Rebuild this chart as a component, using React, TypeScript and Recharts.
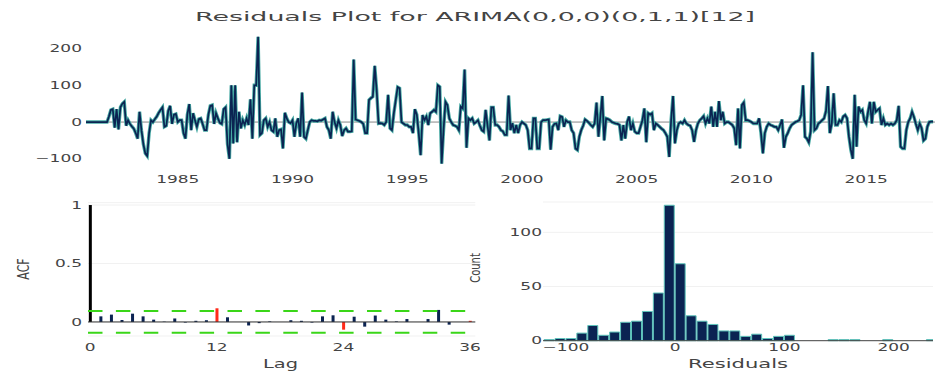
import { LineChart, Line, BarChart, Bar, Cell, XAxis, YAxis, CartesianGrid, ReferenceLine } from "recharts";

// monthly residuals, Jan 1981 .. Dec 2017
const res1980s = [
  0, 0, 0, 0, 0, 0, 0, 0, 0, 0, 0, 0,
  15, 33, 35, -15, 35, -20, 40, 50, 55, -10, 5, -5,
  -12, -18, -30, -45, 28, -22, -60, -85, -92, -30, 5, 0,
  8, 15, 25, 33, 40, -13, -10, 30, 44, -5, 20, 22,
  0, 5, 5, -30, -45, 20, 49, -22, 24, 5, -13, 8,
  10, -5, -22, -22, 20, 44, 46, -5, 24, 10, -2, -5,
  35, 40, -60, -100, 100, -58, 100, -55, 28, -17, 5, -8,
  10, -8, 62, -45, 100, 100, 232, -35, -30, 5, 10, -13,
  0, -22, -26, 10, -40, -22, -20, -72, 25, 10, 0, -3,
];
const res1990s = [
  5, -40, -3, 10, -40, 80, -40, -45, -22, 0, 5, 3,
  3, 2, 5, 4, 7, 10, -13, -22, -45, 28, 0, -17,
  5, -8, -38, -22, -17, -26, -26, -25, 170, 7, 5, 3,
  0, -5, -30, -30, 60, 65, 69, 153, 87, -4, -3, -4,
  -8, 0, 74, -17, -22, 24, 60, 95, 92, 0, -4, -8,
  -8, -13, -13, -30, 35, 20, -30, -90, 19, 5, 15, -8,
  24, 28, 33, 28, 100, 96, -113, -20, 55, 46, 10, 0,
  -8, -10, -13, -22, 42, 37, 143, -70, 10, 5, 10, -4,
  0, 5, -10, -22, -26, 33, -10, -50, 40, 40, -8, -8,
  -13, -22, -25, -35, -35, 72, -22, -3, -30, -8, -30, -8,
];
const res2000s = [
  0, -4, -8, -22, -72, -72, 10, 10, -72, -72, 0, 5,
  5, 6, 7, -75, -13, -5, -4, -22, 16, 14, -13, 5,
  0, 0, -22, -30, -72, -76, -40, -22, -10, 7, 3, -2,
  -8, -13, -4, 53, -40, 15, 71, -50, 10, 8, 5, 0,
  -2, -4, -5, -8, -50, -8, -45, 0, 15, -22, -4, -26,
  -30, -30, -13, 5, 37, -55, 24, 20, 24, -22, -4, -8,
  -13, -18, -22, -30, -40, -95, 5, 71, -58, -22, -4, 0,
  -4, 5, -4, -8, -10, -22, -54, -22, -4, 5, 10, 16,
  -4, 10, -4, 42, -13, 28, -13, 57, 5, 28, -4, 0,
  0, -4, -8, -17, -63, 37, -72, 46, 53, 5, 5, 3,
];
const res2010s = [
  0, -4, -4, -4, 10, -30, -85, -30, -13, -4, -8, -10,
  -13, -13, -22, -8, 7, -70, -40, -30, -17, -8, -4, 0,
  2, 5, 20, 100, -40, -45, -55, -25, 190, -22, -17, -4,
  0, 5, 10, 30, 98, -30, -4, 78, -8, -8, 5, 0,
  15, 19, 10, -40, -76, -100, 74, -67, 42, 28, 33, 5,
  -4, 28, 55, -4, 55, 28, 33, 37, -8, 10, -8, -4,
  -8, -4, -8, -4, 5, 44, -67, -72, -72, -22, 0, 10,
  28, 14, -5, -22, -4, -17, -50, -45, -13, 0, 1, 1,
];
const startYear = 1981;
const yearTicks = [1985, 1990, 1995, 2000, 2005, 2010, 2015];

// autocorrelation, lags 0..36
const acfValues = [
  1, 0.048, 0.063, 0.017, 0.071, 0.048, 0.02, 0.003, 0.03, -0.005, 0.01, 0.015,
  0.117, 0.04, 0, -0.03, -0.01, 0.005, 0, 0.015, 0.01, -0.005, 0.048, 0.057,
  -0.066, 0.045, -0.04, 0.055, 0.02, 0.005, 0.025, 0, 0.025, 0.103, -0.023, 0, 0.01,
];
const acfBound = 0.093;
const lagTicks = [0, 12, 24, 36];

// histogram of residuals, bins of width 10
const binCenters = [-115, -105, -95, -85, -75, -65, -55, -45, -35, -25, -15, -5, 5, 15, 25, 35, 45, 55, 65, 75, 85, 95, 105, 145, 155, 165, 195, 235];
const binCounts = [1, 2, 2, 7, 14, 5, 8, 17, 18, 27, 44, 125, 71, 23, 18, 15, 9, 9, 4, 6, 2, 4, 5, 1, 1, 1, 1, 1];

const residuals = [...res1980s, ...res1990s, ...res2000s, ...res2010s];
const seriesData = residuals.map((r, i) => ({ t: startYear + i / 12, r }));
const acfData = acfValues.map((v, lag) => ({ lag, v }));
const histData = binCenters.map((mid, i) => ({ mid, n: binCounts[i] }));

const NAVY = "#0b2352";
const TEAL = "#45a8a2";
const FONT = "DejaVu Sans";
const TXT = "#444";

const fmt = (v: number) => (v < 0 ? "\u2212" + Math.abs(v) : String(v));

function StretchText({ x, y, text, anchor, size = 10, sx = 1.7 }: any) {
  return (
    <text
      transform={`translate(${x},${y}) scale(${sx},1)`}
      textAnchor={anchor}
      fontSize={size}
      fontFamily={FONT}
      fill={TXT}
    >
      {text}
    </text>
  );
}

const yTick = (xRight: number) => (p: any) => (
  <StretchText x={xRight} y={p.y + 3.6} text={fmt(p.payload.value)} anchor="end" />
);
const xTick = (baseline: number) => (p: any) => (
  <StretchText x={p.x} y={baseline} text={fmt(p.payload.value)} anchor="middle" />
);

export default function App() {
  return (
    <div style={{ position: "absolute", left: 0, top: 0, width: 949, height: 372, background: "#fff", overflow: "hidden" }}>
      <div style={{ position: "absolute", left: 0, top: 0 }}>
        <LineChart width={949} height={195} data={seriesData} margin={{ top: 32, right: 14, bottom: 0, left: 0 }}>
          <XAxis
            dataKey="t"
            type="number"
            domain={[1981, 2018]}
            ticks={yearTicks}
            axisLine={false}
            tickLine={false}
            height={27}
            tick={xTick(183.3)}
          />
          <YAxis
            type="number"
            domain={[-125, 245]}
            ticks={[-100, 0, 100, 200]}
            axisLine={false}
            tickLine={false}
            width={86}
            tick={yTick(82)}
          />
          <ReferenceLine y={0} stroke="#888" strokeWidth={1} />
          <Line dataKey="r" stroke={TEAL} strokeWidth={3.4} dot={false} isAnimationActive={false} />
          <Line dataKey="r" stroke={NAVY} strokeWidth={1.7} dot={false} isAnimationActive={false} />
        </LineChart>
      </div>

      <div style={{ position: "absolute", left: 0, top: 195 }}>
        <BarChart width={480} height={177} data={acfData} margin={{ top: 7.7, right: 4.7, bottom: 0, left: 0 }}>
          <CartesianGrid vertical={false} stroke="#f1f1f1" />
          <XAxis
            dataKey="lag"
            type="number"
            domain={[-0.2, 36.5]}
            ticks={lagTicks}
            axisLine={false}
            tickLine={false}
            height={36}
            tick={xTick(156)}
          />
          <YAxis
            type="number"
            domain={[-0.12, 1.02]}
            ticks={[0, 0.5, 1]}
            axisLine={false}
            tickLine={false}
            width={88}
            tick={yTick(82)}
          />
          <ReferenceLine y={0} stroke="#333" strokeWidth={1} />
          <ReferenceLine y={acfBound} stroke="#3ad618" strokeWidth={2} strokeDasharray="14.5 13.4" />
          <ReferenceLine y={-acfBound} stroke="#3ad618" strokeWidth={2} strokeDasharray="14.5 13.4" />
          <Bar dataKey="v" barSize={3} isAnimationActive={false}>
            {acfData.map((d) => (
              <Cell key={d.lag} fill={d.lag === 0 ? "#000" : d.lag % 12 === 0 ? "#ff2a1a" : NAVY} />
            ))}
          </Bar>
        </BarChart>
      </div>

      <div style={{ position: "absolute", left: 480, top: 195 }}>
        <BarChart width={469} height={177} data={histData} margin={{ top: 7, right: 16, bottom: 0, left: 0 }}>
          <CartesianGrid vertical={false} stroke="#f1f1f1" />
          <XAxis
            dataKey="mid"
            type="number"
            domain={[-121, 236]}
            allowDataOverflow
            ticks={[-100, 0, 100, 200]}
            axisLine={{ stroke: "#444" }}
            tickLine={false}
            height={31.3}
            tick={xTick(156)}
          />
          <YAxis
            type="number"
            domain={[0, 128]}
            ticks={[0, 50, 100]}
            axisLine={false}
            tickLine={false}
            width={63}
            tick={yTick(62)}
          />
          <Bar dataKey="n" barSize={10} fill={NAVY} stroke="#5ec4bb" strokeWidth={1} isAnimationActive={false} />
        </BarChart>
      </div>

      <svg width={949} height={372} style={{ position: "absolute", left: 0, top: 0, pointerEvents: "none" }}>
        <text x={475} y={20.8} textAnchor="middle" fontSize={13} fontFamily={FONT} fill={TXT} textLength={560} lengthAdjust="spacingAndGlyphs">
          Residuals Plot for ARIMA(0,0,0)(0,1,1)[12]
        </text>
        <text x={280.5} y={368.3} textAnchor="middle" fontSize={11.5} fontFamily={FONT} fill={TXT} textLength={35} lengthAdjust="spacingAndGlyphs">
          Lag
        </text>
        <text x={738} y={367.6} textAnchor="middle" fontSize={11.5} fontFamily={FONT} fill={TXT} textLength={100} lengthAdjust="spacingAndGlyphs">
          Residuals
        </text>
        <text transform="translate(29,269) scale(1.4,1) rotate(-90)" textAnchor="middle" fontSize={11} fontFamily={FONT} fill={TXT}>
          ACF
        </text>
        <text transform="translate(480,268) scale(1.35,1) rotate(-90)" textAnchor="middle" fontSize={10} fontFamily={FONT} fill={TXT}>
          Count
        </text>
      </svg>
    </div>
  );
}
